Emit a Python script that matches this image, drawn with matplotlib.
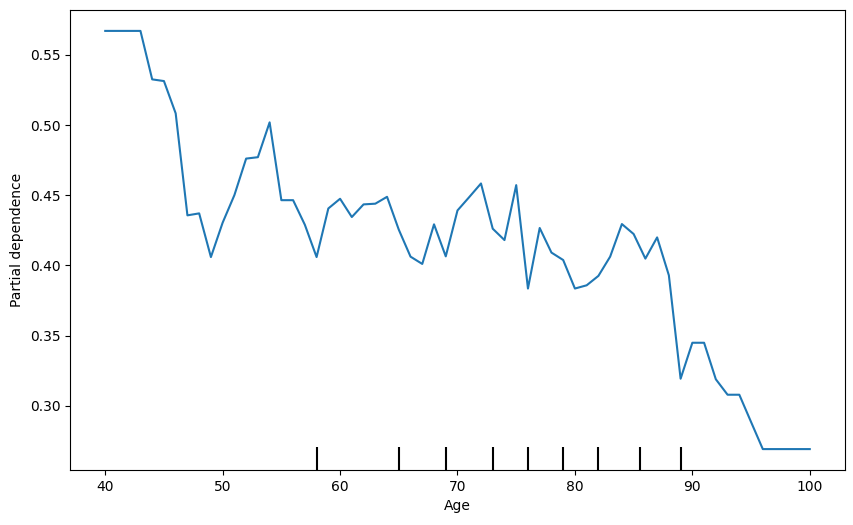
import matplotlib
matplotlib.use('Agg')
import matplotlib.pyplot as plt
import numpy as np

# ==============================================================
# 데이터
ages = np.arange(40, 101)
pd_values = [
    0.567, 0.567, 0.567, 0.567, 0.5325, 0.5313, 0.5083, 0.4357, 0.4371, 0.4060,
    0.4305, 0.4501, 0.4761, 0.4771, 0.5019, 0.4465, 0.4465, 0.4290, 0.4060, 0.4406,
    0.4475, 0.4345, 0.4435, 0.4440, 0.4489, 0.4255, 0.4063, 0.4011, 0.4293, 0.4065,
    0.4392, 0.4487, 0.4584, 0.4262, 0.4181, 0.4572, 0.3836, 0.4267, 0.4092, 0.4039,
    0.3836, 0.3859, 0.3926, 0.4063, 0.4295, 0.4224, 0.4049, 0.4200, 0.3930, 0.3194,
    0.3450, 0.3450, 0.3190, 0.3080, 0.3080, 0.2886, 0.2693, 0.2693, 0.2693, 0.2693,
    0.2693,
]
deciles = [58, 65, 69, 73, 76, 79, 82, 85.5, 89]

fig = plt.figure(figsize=(8.54, 5.25), dpi=100)
ax = fig.add_axes([70 / 854, 55 / 525, 775 / 854, 460 / 525])

ax.plot(ages, pd_values, color='C0', linewidth=1.5)
ylim = ax.get_ylim()

# decile 표시
ax.vlines(deciles, 0, 0.05, transform=ax.get_xaxis_transform(), colors='k', linewidth=1.5)
ax.set_ylim(ylim)

ax.set_xlabel('Age')
ax.set_ylabel('Partial dependence')

fig.savefig('out.png', dpi=100)
